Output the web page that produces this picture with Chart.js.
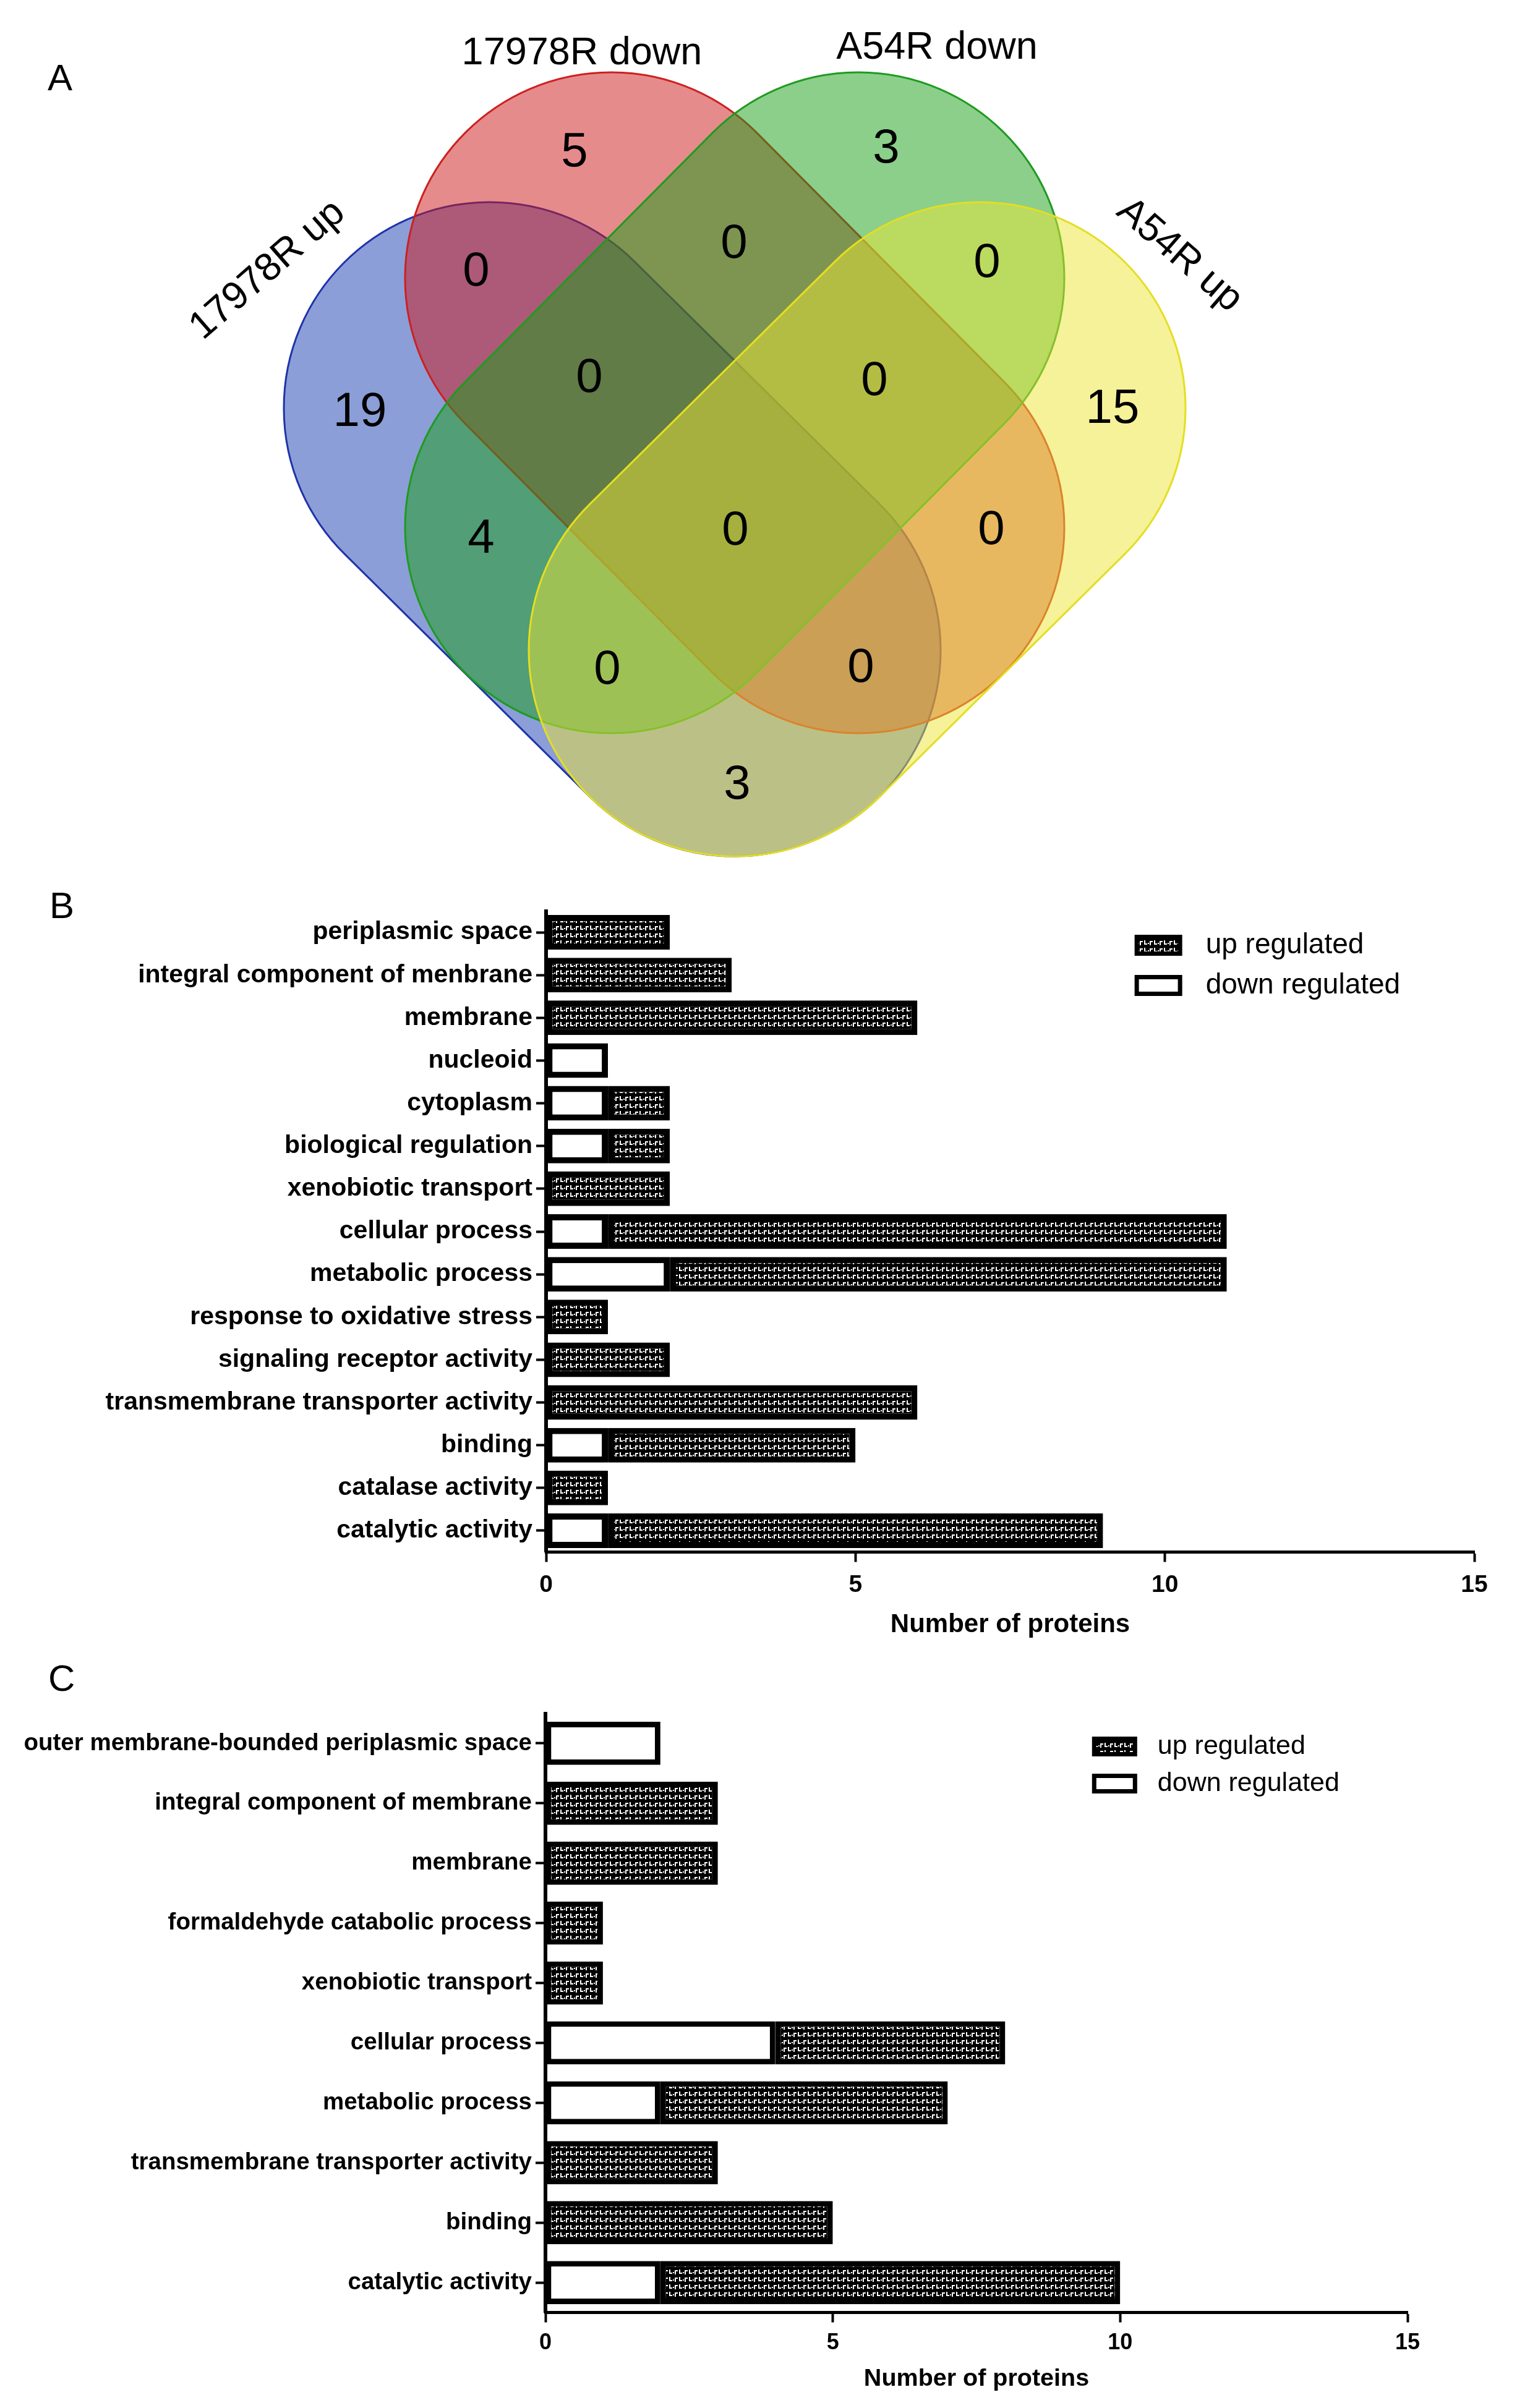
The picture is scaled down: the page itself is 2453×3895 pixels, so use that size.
<!DOCTYPE html>
<html>
<head>
<meta charset="utf-8">
<script src="https://cdn.jsdelivr.net/npm/chart.js@4.4.1/dist/chart.umd.min.js"></script>
<style>
html, body { margin: 0; padding: 0; background: #fff; }
body { width: 2453px; height: 3895px; position: relative; overflow: hidden; font-family: "Liberation Sans", Arial, sans-serif; }
.panel { position: absolute; left: 0; width: 2453px; }
.tag { position: absolute; font-size: 60px; line-height: 60px; color: #000; }
</style>
</head>
<body>
<div class="panel" style="top:0;height:1400px"><canvas id="venn"></canvas></div>
<div class="panel" style="top:1400px;height:1250px"><canvas id="chartB"></canvas></div>
<div class="panel" style="top:2650px;height:1245px"><canvas id="chartC"></canvas></div>
<div class="tag" style="left:77px;top:96px">A</div>
<div class="tag" style="left:80px;top:1435px">B</div>
<div class="tag" style="left:78px;top:2685px">C</div>

<script>
const FONT = '"Liberation Sans", Arial, sans-serif';

// A: Venn — sets and region counts
const vennSetNames = ['17978R up', '17978R down', 'A54R down', 'A54R up'];
// region keys: 1 = 17978R up, 2 = 17978R down, 3 = A54R down, 4 = A54R up
const vennRegionKeys = ['1', '2', '3', '4', '12', '23', '34', '13', '24', '123', '234', '1234', '134', '124', '14'];
const vennRegionCounts = [19, 5, 3, 15, 0, 0, 0, 4, 0, 0, 0, 0, 0, 0, 3];

// B: GO terms, ATCC 17978R
const bCategories = [
    'periplasmic space', 'integral component of menbrane', 'membrane', 'nucleoid',
    'cytoplasm', 'biological regulation', 'xenobiotic transport', 'cellular process',
    'metabolic process', 'response to oxidative stress', 'signaling receptor activity',
    'transmembrane transporter activity', 'binding', 'catalase activity', 'catalytic activity'
];
const bDown = [0, 0, 0, 1, 1, 1, 0, 1, 2, 0, 0, 0, 1, 0, 1];
const bUp   = [2, 3, 6, 0, 1, 1, 2, 10, 9, 1, 2, 6, 4, 1, 8];

// C: GO terms, A54R
const cCategories = [
    'outer membrane-bounded periplasmic space', 'integral component of membrane', 'membrane',
    'formaldehyde catabolic process', 'xenobiotic transport', 'cellular process',
    'metabolic process', 'transmembrane transporter activity', 'binding', 'catalytic activity'
];
const cDown = [2, 0, 0, 0, 0, 4, 2, 0, 0, 2];
const cUp   = [0, 3, 3, 1, 1, 4, 5, 3, 5, 8];

const xTickValues = [0, 5, 10, 15];
const seriesNames = ['down regulated', 'up regulated'];

// layout of the venn drawing (units = px of the 2453x1400 panel)
const vennLayout = {
    w: 2453, h: 1400, r: 333,
    sets: [
        { a: [792, 660],  b: [1188, 1052], fill: 'rgba(23,61,177,0.5)',  line: '#1f33a8' },
        { a: [988, 450],  b: [1388, 853],  fill: 'rgba(205,23,23,0.5)',  line: '#cc2020' },
        { a: [1388, 450], b: [988, 853],   fill: 'rgba(23,159,23,0.5)',  line: '#1f9a1f' },
        { a: [1584, 660], b: [1188, 1052], fill: 'rgba(235,229,53,0.5)', line: '#e4de22' }
    ],
    titles: [[433, 437, -41], [941, 87, 0], [1515, 78, 0], [1907, 413, 41]],
    regions: {
        '1': [582, 667], '2': [929, 247], '3': [1433, 241], '4': [1799, 662],
        '12': [770, 440], '23': [1187, 395], '34': [1596, 426], '13': [778, 872],
        '24': [1603, 858], '123': [953, 612], '234': [1414, 617], '1234': [1189, 859],
        '134': [982, 1084], '124': [1392, 1081], '14': [1192, 1270]
    }
};

const vennPlugin = {
    id: 'vennShapes',
    beforeDatasetsDraw(chart) {
        const { ctx, scales: { x, y } } = chart;
        const r = x.getPixelForValue(vennLayout.r) - x.getPixelForValue(0);
        ctx.save();
        vennLayout.sets.forEach(s => {
            const ax = x.getPixelForValue(s.a[0]), ay = y.getPixelForValue(s.a[1]);
            const bx = x.getPixelForValue(s.b[0]), by = y.getPixelForValue(s.b[1]);
            const t = Math.atan2(by - ay, bx - ax);
            ctx.beginPath();
            ctx.arc(bx, by, r, t - Math.PI / 2, t + Math.PI / 2);
            ctx.arc(ax, ay, r, t + Math.PI / 2, t + 3 * Math.PI / 2);
            ctx.closePath();
            ctx.fillStyle = s.fill;
            ctx.fill();
            ctx.lineWidth = 3;
            ctx.strokeStyle = s.line;
            ctx.stroke();
        });
        ctx.restore();
    },
    afterDatasetsDraw(chart) {
        const ctx = chart.ctx;
        ctx.save();
        ctx.fillStyle = '#000';
        ctx.textAlign = 'center';
        ctx.textBaseline = 'middle';
        chart.data.datasets.forEach((ds, di) => {
            chart.getDatasetMeta(di).data.forEach((pt, i) => {
                const raw = ds.data[i];
                ctx.save();
                ctx.translate(pt.x, pt.y);
                ctx.rotate((raw.rot || 0) * Math.PI / 180);
                ctx.font = ds.labelFont;
                ctx.fillText(raw.text, 0, 0);
                ctx.restore();
            });
        });
        ctx.restore();
    }
};

new Chart(document.getElementById('venn'), {
    type: 'scatter',
    data: {
        datasets: [
            {
                data: vennRegionKeys.map((k, i) => ({ x: vennLayout.regions[k][0], y: vennLayout.regions[k][1], text: String(vennRegionCounts[i]) })),
                pointRadius: 0,
                labelFont: '78px ' + FONT
            },
            {
                data: vennSetNames.map((n, i) => ({ x: vennLayout.titles[i][0], y: vennLayout.titles[i][1], rot: vennLayout.titles[i][2], text: n })),
                pointRadius: 0,
                labelFont: '63px ' + FONT
            }
        ]
    },
    options: {
        responsive: true,
        maintainAspectRatio: false,
        animation: false,
        layout: { padding: 0 },
        scales: {
            x: { type: 'linear', min: 0, max: vennLayout.w, display: false },
            y: { type: 'linear', min: 0, max: vennLayout.h, reverse: true, display: false }
        },
        plugins: { legend: { display: false }, tooltip: { enabled: false } }
    },
    plugins: [vennPlugin]
});

// hatch used by GraphPad style "up regulated" bars
function makePattern() {
    const c = document.createElement('canvas');
    c.width = 16; c.height = 12;
    const g = c.getContext('2d');
    g.fillStyle = '#000';
    g.fillRect(0, 0, 16, 12);
    g.fillStyle = '#fff';
    g.fillRect(0, 5, 2, 2);
    g.fillRect(3, 2, 5, 2);
    g.fillRect(3, 2, 2, 7);
    g.fillRect(10, 1, 2, 7);
    g.fillRect(10, 6, 5, 2);
    return g.createPattern(c, 'repeat');
}

const legendPlugin = {
    id: 'regLegend',
    afterDraw(chart, args, o) {
        const { ctx, chartArea: ca } = chart;
        const items = chart.data.datasets.slice().reverse();
        ctx.save();
        items.forEach((ds, i) => {
            const bx = ca.left + o.fx * (ca.right - ca.left);
            const by = ca.top + o.top + i * o.step;
            ctx.fillStyle = '#000';
            ctx.fillRect(bx, by, o.w, o.h);
            ctx.fillStyle = ds.backgroundColor;
            ctx.fillRect(bx + o.bw, by + o.bw, o.w - 2 * o.bw, o.h - 2 * o.bw);
            ctx.fillStyle = '#000';
            ctx.font = o.textFont;
            ctx.textAlign = 'left';
            ctx.textBaseline = 'middle';
            ctx.fillText(ds.label, bx + o.w + o.gap, by + o.h / 2);
        });
        ctx.restore();
    }
};

function barPanel(id, cats, down, up, lay) {
    const pattern = makePattern();
    new Chart(document.getElementById(id), {
        type: 'bar',
        data: {
            labels: cats,
            datasets: [
                { label: seriesNames[0], data: down, backgroundColor: '#fff', borderColor: '#000', borderWidth: lay.border, borderSkipped: false },
                { label: seriesNames[1], data: up, backgroundColor: pattern, borderColor: '#000', borderWidth: lay.border, borderSkipped: false }
            ]
        },
        options: {
            indexAxis: 'y',
            responsive: true,
            maintainAspectRatio: false,
            animation: false,
            layout: { padding: { top: lay.padTop, right: lay.padRight, left: 0, bottom: 0 } },
            datasets: { bar: { barPercentage: lay.barPct, categoryPercentage: 1 } },
            scales: {
                x: {
                    stacked: true,
                    min: xTickValues[0],
                    max: xTickValues[xTickValues.length - 1],
                    ticks: { stepSize: xTickValues[1] - xTickValues[0], color: '#000', padding: lay.xTickPad,
                             font: { family: FONT, size: lay.tickSize, weight: 'bold' } },
                    grid: { drawOnChartArea: false, drawTicks: true, tickLength: 16, tickWidth: 4, tickColor: '#000' },
                    border: { display: true, color: '#000', width: 5 },
                    title: { display: true, text: 'Number of proteins', color: '#000',
                             font: { family: FONT, size: lay.titleSize, weight: 'bold', lineHeight: 1 },
                             padding: { top: 0, bottom: lay.titlePad } },
                    afterFit(s) { s.height = lay.xHeight; }
                },
                y: {
                    stacked: true,
                    ticks: { color: '#000', padding: 6, autoSkip: false,
                             font: { family: FONT, size: lay.labelSize, weight: 'bold' } },
                    grid: { offset: false, drawOnChartArea: false, drawTicks: true, tickLength: 16, tickWidth: 4, tickColor: '#000' },
                    border: { display: true, color: '#000', width: 6 },
                    afterFit(s) { s.width = lay.yWidth; }
                }
            },
            plugins: {
                legend: { display: false },
                tooltip: { enabled: false },
                regLegend: lay.legend
            }
        },
        plugins: [legendPlugin]
    });
}

barPanel('chartB', bCategories, bDown, bUp, {
    padTop: 73.5, padRight: 69, yWidth: 883, xHeight: 139.5, barPct: 0.81, border: 10,
    labelSize: 41, tickSize: 39, titleSize: 42, xTickPad: 14, titlePad: 1,
    legend: { fx: 0.634, top: 38.5, w: 77, h: 34, bw: 7, step: 65, gap: 38, textFont: '46px ' + FONT }
});

barPanel('chartC', cCategories, cDown, cUp, {
    padTop: 121.5, padRight: 177, yWidth: 882, xHeight: 154.5, barPct: 0.72, border: 9,
    labelSize: 38.5, tickSize: 36, titleSize: 39.5, xTickPad: 12, titlePad: 27,
    legend: { fx: 0.634, top: 37.5, w: 73, h: 32, bw: 7, step: 60, gap: 33, textFont: '43px ' + FONT }
});
</script>
</body>
</html>
